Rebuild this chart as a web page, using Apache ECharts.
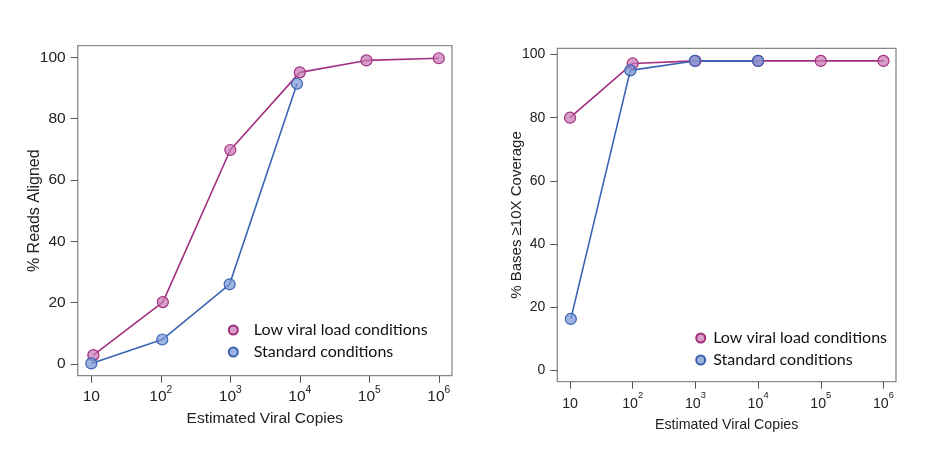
<!DOCTYPE html>
<html>
<head>
<meta charset="utf-8">
<script src="https://cdn.jsdelivr.net/npm/echarts@6/dist/echarts.min.js"></script>
<style>
html,body{margin:0;padding:0;background:#fff;}
#chart{width:936px;height:451px;}
</style>
</head>
<body>
<div id="chart"></div>
<script>
// ---- data ----
var seriesNames = ['Low viral load conditions', 'Standard conditions'];
var xTickExponents = [1, 2, 3, 4, 5, 6];
var yTicks = [0, 20, 40, 60, 80, 100];

// Panel A: % Reads Aligned
var readsLowCopies = [10.7, 107, 1000, 10000, 91000, 1000000];
var readsLowValues = [2.9, 20.2, 69.8, 95.1, 99.0, 99.7];
var readsStdCopies = [10, 105, 977, 9120];
var readsStdValues = [0.2, 8.0, 26.0, 91.4];

// Panel B: % Bases >=10X Coverage
var covLowCopies = [10, 100, 1000, 10000, 100000, 1000000];
var covLowValues = [80.0, 97.2, 98.0, 98.0, 98.0, 98.0];
var covStdCopies = [10.3, 91.6, 975, 10000];
var covStdValues = [16.2, 95.0, 98.0, 98.0];

var xTitle = 'Estimated Viral Copies';
var yTitleA = '% Reads Aligned';
var yTitleB = '% Bases \u226510X Coverage';

// ---- helpers ----
function pairs(copies, vals) {
  return copies.map(function (c, i) { return [Math.log10(c), vals[i]]; });
}
var PINK_LINE = '#a3307e', PINK_FILL = 'rgba(200,120,180,0.72)';
var BLUE_LINE = '#3a63b2', BLUE_FILL = 'rgba(120,150,210,0.72)';
var FONT = 'Liberation Sans, Arial, sans-serif';
var LEG_FONT = 'Lato, Open Sans, sans-serif';

function xLabelFmt(v) {
  var e = Math.round(v);
  if (e === 1) return '{b|10}';
  return '{b|10}{s|' + e + '}';
}

function xAxisCfg(gi, min, max, fs, gap) {
  return {
    gridIndex: gi, type: 'value', min: min, max: max,
    splitLine: { show: false },
    axisLine: { show: false, onZero: false },
    axisTick: { show: true, customValues: xTickExponents, length: 7, lineStyle: { color: '#555' } },
    axisLabel: {
      customValues: xTickExponents, margin: 9, color: '#222',
      formatter: xLabelFmt,
      rich: {
        b: { fontSize: fs, fontFamily: FONT, color: '#222', lineHeight: 20, verticalAlign: 'bottom' },
        s: { fontSize: fs * 0.66, fontFamily: FONT, color: '#222', lineHeight: 4, verticalAlign: 'top' }
      }
    },
    name: xTitle, nameLocation: 'middle', nameGap: gap, nameMoveOverlap: false,
    nameTextStyle: { fontSize: fs, fontFamily: FONT, color: '#222' }
  };
}
function yAxisCfg(gi, min, max, fs, title, gap, tfs) {
  return {
    gridIndex: gi, type: 'value', min: min, max: max,
    splitLine: { show: false },
    axisLine: { show: false, onZero: false },
    axisTick: { show: true, customValues: yTicks, length: 7, lineStyle: { color: '#555' } },
    axisLabel: { customValues: yTicks, margin: 12, color: '#222', fontSize: fs, fontFamily: FONT },
    name: title, nameLocation: 'middle', nameGap: gap, nameRotate: 90, nameMoveOverlap: false,
    nameTextStyle: { fontSize: tfs, fontFamily: FONT, color: '#222' }
  };
}
function lineSeries(name, xi, data, lc, fc) {
  return {
    name: name, type: 'line', xAxisIndex: xi, yAxisIndex: xi,
    data: data, symbol: 'circle', symbolSize: 11,
    lineStyle: { color: lc, width: 1.6 },
    itemStyle: { color: fc, borderColor: lc, borderWidth: 1.2 },
    emphasis: { disabled: true }, animation: false
  };
}

var chart = echarts.init(document.getElementById('chart'), null, { renderer: 'canvas' });
chart.setOption({
  backgroundColor: '#fff',
  animation: false,
  grid: [
    { left: 77.7, top: 45.7, width: 374.3, height: 330, show: true, borderColor: '#8a8a8a', borderWidth: 1.3, backgroundColor: 'transparent' },
    { left: 557.3, top: 48.3, width: 338.7, height: 333.4, show: true, borderColor: '#8a8a8a', borderWidth: 1.3, backgroundColor: 'transparent' }
  ],
  xAxis: [
    xAxisCfg(0, 0.804, 6.19, 15.5, 35),
    xAxisCfg(1, 0.797, 6.20, 14.2, 36)
  ],
  yAxis: [
    yAxisCfg(0, -3.8, 103.8, 15.5, yTitleA, 35, 16),
    yAxisCfg(1, -3.7, 102.0, 14, yTitleB, 33, 15)
  ],
  legend: [
    {
      data: seriesNames, orient: 'vertical', left: 222.8, top: 316,
      icon: 'circle', itemWidth: 9, itemHeight: 9, itemGap: 4,
      textStyle: { fontSize: 16, fontFamily: LEG_FONT, color: '#111', lineHeight: 18, padding: [0, 0, 0, 11] },
      selectedMode: false
    },
    {
      data: seriesNames, orient: 'vertical', left: 690.2, top: 324,
      icon: 'circle', itemWidth: 9, itemHeight: 9, itemGap: 4,
      textStyle: { fontSize: 16, fontFamily: LEG_FONT, color: '#111', lineHeight: 18, padding: [0, 0, 0, 3] },
      selectedMode: false
    }
  ],
  series: [
    lineSeries(seriesNames[0], 0, pairs(readsLowCopies, readsLowValues), PINK_LINE, PINK_FILL),
    lineSeries(seriesNames[1], 0, pairs(readsStdCopies, readsStdValues), BLUE_LINE, BLUE_FILL),
    lineSeries(seriesNames[0], 1, pairs(covLowCopies, covLowValues), PINK_LINE, PINK_FILL),
    lineSeries(seriesNames[1], 1, pairs(covStdCopies, covStdValues), BLUE_LINE, BLUE_FILL)
  ]
});
</script>
</body>
</html>
